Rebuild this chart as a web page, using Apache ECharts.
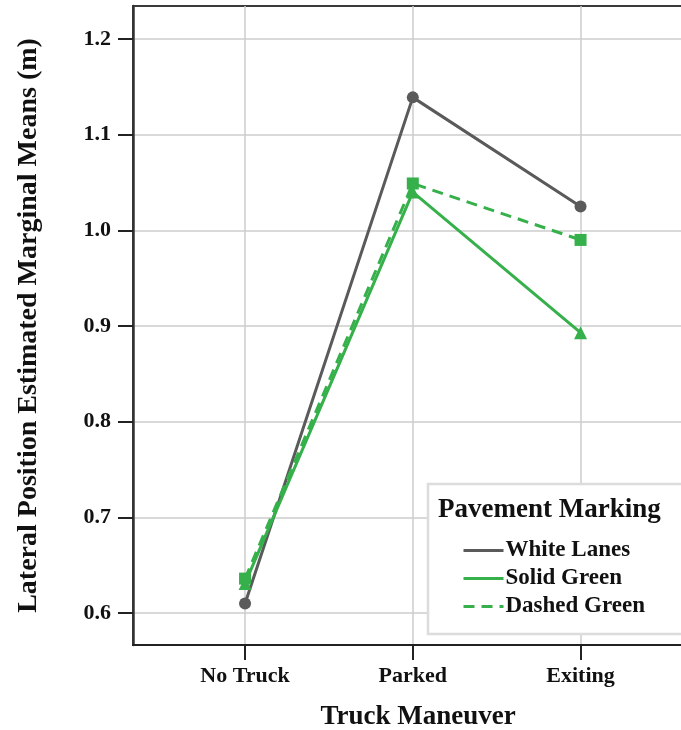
<!DOCTYPE html>
<html>
<head>
<meta charset="utf-8">
<script src="https://cdn.jsdelivr.net/npm/echarts@6/dist/echarts.min.js"></script>
<style>
html,body{margin:0;padding:0;background:#fff;overflow:hidden;}
#chart{width:681px;height:730px;}
</style>
</head>
<body>
<div id="chart"></div>
<script>
const categories = ['No Truck', 'Parked', 'Exiting'];
const whiteLanes = [0.610, 1.139, 1.025];
const solidGreen = [0.631, 1.040, 0.893];
const dashedGreen = [0.636, 1.049, 0.990];
const yTicks = [0.6, 0.7, 0.8, 0.9, 1.0, 1.1, 1.2];
const xTicks = [0, 1, 2];
const seriesNames = ['White Lanes', 'Solid Green', 'Dashed Green'];
const legendTitle = 'Pavement Marking';
const xTitle = 'Truck Maneuver';
const yTitle = 'Lateral Position Estimated Marginal Means (m)';

const FONT = '"Liberation Serif", "Times New Roman", serif';
const GRAY = '#5a5a5a';
const GREEN = '#35b04a';

const toPts = arr => arr.map((v, i) => [i, v]);

const chart = echarts.init(document.getElementById('chart'), null, {renderer: 'canvas'});
chart.setOption({
  backgroundColor: '#ffffff',
  animation: false,
  grid: {
    left: 133, top: 6, bottom: 85, width: 570,
    outerBoundsMode: 'none',
    containLabel: false,
    show: true, borderColor: '#3a3a3a', borderWidth: 2, backgroundColor: 'transparent'
  },
  title: {
    text: legendTitle,
    left: 438, top: 497, padding: 0,
    textStyle: {fontFamily: FONT, fontWeight: 'bold', fontSize: 27, color: '#111'}
  },
  legend: {
    orient: 'vertical',
    left: 428, top: 484,
    padding: [55, 60, 16, 34],
    itemGap: 5,
    itemWidth: 40, itemHeight: 14,
    backgroundColor: '#ffffff',
    borderColor: '#dcdcdc', borderWidth: 2.5,
    data: seriesNames,
    itemStyle: {opacity: 0},
    lineStyle: {width: 3},
    textStyle: {fontFamily: FONT, fontWeight: 'bold', fontSize: 23, color: '#111', padding: [0,0,0,-3]}
  },
  xAxis: {
    type: 'value',
    min: -0.668, max: 2.73,
    minInterval: 1, maxInterval: 1,
    name: xTitle,
    nameLocation: 'middle',
    nameGap: 59,
    nameTextStyle: {fontFamily: FONT, fontWeight: 'bold', fontSize: 27, color: '#111'},
    axisLine: {onZero: false, lineStyle: {color: '#222', width: 2}},
    axisTick: {show: true, customValues: xTicks, length: 15, lineStyle: {color: '#222', width: 2}},
    axisLabel: {
      customValues: xTicks,
      margin: 20,
      fontFamily: FONT, fontWeight: 'bold', fontSize: 22, color: '#111',
      formatter: v => categories[Math.round(v)] || ''
    },
    splitLine: {show: true, lineStyle: {color: '#cccccc', width: 1.5}}
  },
  yAxis: {
    type: 'value',
    min: 0.5666, max: 1.2345,
    minInterval: 0.1, maxInterval: 0.1,
    name: yTitle,
    nameLocation: 'middle',
    nameRotate: 90,
    nameGap: 90,
    nameTextStyle: {fontFamily: FONT, fontWeight: 'bold', fontSize: 28, color: '#111'},
    axisLine: {show: true, onZero: false, lineStyle: {color: '#333', width: 2.5}},
    axisTick: {show: true, customValues: yTicks, length: 15, lineStyle: {color: '#222', width: 2}},
    axisLabel: {
      customValues: yTicks,
      margin: 22,
      fontFamily: FONT, fontWeight: 'bold', fontSize: 22, color: '#111',
      formatter: v => v.toFixed(1)
    },
    splitLine: {show: true, lineStyle: {color: '#cccccc', width: 1.5}}
  },
  series: [
    {
      name: seriesNames[0], type: 'line', data: toPts(whiteLanes),
      symbol: 'circle', symbolSize: 12,
      lineStyle: {color: GRAY, width: 3},
      itemStyle: {color: GRAY},
      z: 3
    },
    {
      name: seriesNames[1], type: 'line', data: toPts(solidGreen),
      symbol: 'triangle', symbolSize: 13,
      lineStyle: {color: GREEN, width: 3},
      itemStyle: {color: GREEN},
      z: 4
    },
    {
      name: seriesNames[2], type: 'line', data: toPts(dashedGreen),
      symbol: 'rect', symbolSize: 12,
      lineStyle: {color: GREEN, width: 3, type: [11, 7]},
      itemStyle: {color: GREEN},
      z: 5
    }
  ]
});
</script>
</body>
</html>
